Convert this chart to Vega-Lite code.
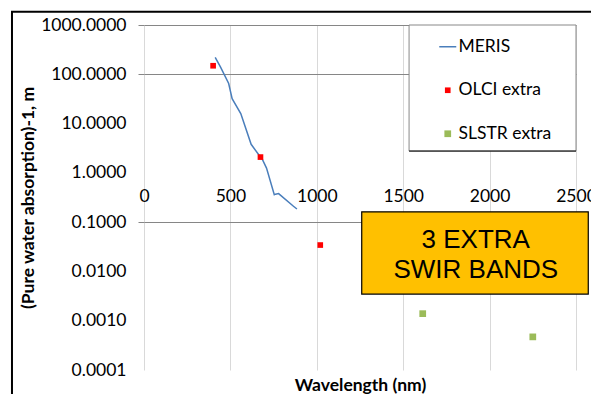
{
  "$schema": "https://vega.github.io/schema/vega-lite/v6.json",
  "width": 432,
  "height": 345,
  "autosize": {"type": "none"},
  "padding": {"left": 144, "top": 25, "right": 15, "bottom": 24},
  "background": "white",
  "config": {
    "font": "Lato",
    "view": {"stroke": null},
    "axis": {"labelFont": "Lato", "titleFont": "Lato", "labelColor": "#000000", "titleColor": "#000000", "labelFontSize": 17.5, "titleFontSize": 17.5}
  },
  "datasets": {
    "meris": [
      {"series": "MERIS", "wavelength": 412, "value": 220},
      {"series": "MERIS", "wavelength": 443, "value": 140},
      {"series": "MERIS", "wavelength": 490, "value": 65},
      {"series": "MERIS", "wavelength": 510, "value": 32},
      {"series": "MERIS", "wavelength": 560, "value": 16},
      {"series": "MERIS", "wavelength": 620, "value": 3.8},
      {"series": "MERIS", "wavelength": 665, "value": 2.3},
      {"series": "MERIS", "wavelength": 681, "value": 2.0},
      {"series": "MERIS", "wavelength": 709, "value": 1.25},
      {"series": "MERIS", "wavelength": 754, "value": 0.36},
      {"series": "MERIS", "wavelength": 761, "value": 0.37},
      {"series": "MERIS", "wavelength": 779, "value": 0.38},
      {"series": "MERIS", "wavelength": 865, "value": 0.21},
      {"series": "MERIS", "wavelength": 885, "value": 0.185}
    ],
    "bands": [
      {"series": "OLCI extra", "wavelength": 400, "value": 149},
      {"series": "OLCI extra", "wavelength": 674, "value": 2.09},
      {"series": "OLCI extra", "wavelength": 1020, "value": 0.0343},
      {"series": "SLSTR extra", "wavelength": 1613, "value": 0.00139},
      {"series": "SLSTR extra", "wavelength": 2250, "value": 0.00047}
    ],
    "one": [{}]
  },
  "resolve": {"axis": {"x": "independent", "y": "independent"}},
  "layer": [
    {
      "data": {"name": "one"},
      "mark": {"type": "rect", "filled": false, "stroke": "#000000", "strokeWidth": 2},
      "encoding": {
        "x": {"datum": -764, "type": "quantitative", "scale": {"domain": [0, 2500], "nice": false, "zero": false}, "axis": null},
        "x2": {"datum": 6000},
        "y": {"datum": 1850, "type": "quantitative", "scale": {"type": "log", "domain": [0.0001, 1000], "nice": false}, "axis": null},
        "y2": {"datum": 0.000001}
      }
    },
    {
      "data": {"name": "one"},
      "mark": {"type": "rect", "fill": "#ffffff", "stroke": "#888888", "strokeWidth": 1},
      "encoding": {
        "x": {"datum": 1534, "type": "quantitative", "scale": {"domain": [0, 2500], "nice": false, "zero": false}, "axis": null},
        "x2": {"datum": 2500},
        "y": {"datum": 1000, "type": "quantitative", "scale": {"type": "log", "domain": [0.0001, 1000], "nice": false}, "axis": null},
        "y2": {"datum": 2.77}
      }
    },
    {
      "data": {"name": "one"},
      "mark": {"type": "rule", "stroke": "#000000", "strokeWidth": 1},
      "encoding": {
        "x": {"datum": 1534, "type": "quantitative", "scale": {"domain": [0, 2500], "nice": false, "zero": false}, "axis": null},
        "x2": {"datum": 2500},
        "y": {"datum": 2.77, "type": "quantitative", "scale": {"type": "log", "domain": [0.0001, 1000], "nice": false}, "axis": null}
      }
    },
    {
      "data": {"name": "meris"},
      "mark": {"type": "line", "strokeWidth": 1.5},
      "encoding": {
        "x": {
          "field": "wavelength", "type": "quantitative",
          "scale": {"domain": [0, 2500], "nice": false, "zero": false},
          "axis": {
            "orient": "bottom", "values": [0, 500, 1000, 1500, 2000, 2500],
            "grid": true, "gridColor": "#d9d9d9", "gridWidth": 1,
            "ticks": false, "labels": false, "domain": false,
            "title": "Wavelength (nm)", "titleFontWeight": "bold", "titlePadding": 6
          }
        },
        "y": {
          "field": "value", "type": "quantitative",
          "scale": {"type": "log", "domain": [0.0001, 1000], "nice": false},
          "axis": {
            "values": [1000, 100, 10, 1, 0.1, 0.01, 0.001, 0.0001],
            "format": ".4f",
            "grid": true, "gridColor": "#868686",
            "gridOpacity": {"condition": {"test": "datum.value >= 100 || datum.value == 0.1", "value": 1}, "value": 0},
            "ticks": true, "tickSize": 6, "tickColor": "#868686",
            "tickOpacity": {"condition": {"test": "datum.value >= 100 || datum.value == 0.1", "value": 1}, "value": 0},
            "domain": false, "labelPadding": 12,
            "title": "(Pure water absorption)-1, m", "titleFontWeight": "bold", "titlePadding": 3
          }
        },
        "color": {
          "field": "series", "type": "nominal",
          "scale": {"domain": ["MERIS", "OLCI extra", "SLSTR extra"], "range": ["#4a7ebb", "#ff0000", "#9bbb59"]},
          "legend": {
            "title": null, "orient": "none", "legendX": 295, "legendY": 13,
            "labelFont": "Lato", "labelFontSize": 17.5, "labelColor": "#000000",
            "rowPadding": 24.5, "labelOffset": 2, "padding": 0,
            "encode": {"symbols": {"update": {"stroke": {"scale": "color", "field": "value"}, "strokeWidth": {"signal": "datum.value === 'MERIS' ? 1.5 : 0"}}}}
          }
        }
      }
    },
    {
      "data": {"name": "bands"},
      "mark": {"type": "point", "filled": true, "opacity": 1},
      "encoding": {
        "x": {
          "field": "wavelength", "type": "quantitative",
          "scale": {"domain": [0, 2500], "nice": false, "zero": false},
          "axis": {
            "orient": "bottom", "offset": -197, "values": [0, 500, 1000, 1500, 2000, 2500],
            "format": "d",
            "grid": false, "ticks": false, "domain": false, "labelFlush": false,
            "labelPadding": 14, "title": null
          }
        },
        "y": {"field": "value", "type": "quantitative", "scale": {"type": "log", "domain": [0.0001, 1000], "nice": false}, "axis": null},
        "color": {
          "field": "series", "type": "nominal",
          "scale": {"domain": ["MERIS", "OLCI extra", "SLSTR extra"], "range": ["#4a7ebb", "#ff0000", "#9bbb59"]},
          "legend": {
            "title": null, "orient": "none", "legendX": 295, "legendY": 13,
            "labelFont": "Lato", "labelFontSize": 17.5, "labelColor": "#000000",
            "rowPadding": 24.5, "labelOffset": 2, "padding": 0,
            "encode": {"symbols": {"update": {"stroke": {"scale": "color", "field": "value"}, "strokeWidth": {"signal": "datum.value === 'MERIS' ? 1.5 : 0"}}}}
          }
        },
        "shape": {
          "field": "series", "type": "nominal",
          "scale": {"domain": ["MERIS", "OLCI extra", "SLSTR extra"], "range": ["stroke", "square", "square"]},
          "legend": {"title": null}
        },
        "size": {
          "field": "series", "type": "nominal",
          "scale": {"type": "ordinal", "domain": ["MERIS", "OLCI extra", "SLSTR extra"], "range": [289, 32, 45]},
          "legend": {"title": null}
        }
      }
    },
    {
      "data": {"name": "one"},
      "mark": {"type": "rect", "fill": "#ffc000", "stroke": "#000000", "strokeWidth": 1.2},
      "encoding": {
        "x": {"datum": 1260, "type": "quantitative", "scale": {"domain": [0, 2500], "nice": false, "zero": false}, "axis": null},
        "x2": {"datum": 2571},
        "y": {"datum": 0.162, "type": "quantitative", "scale": {"type": "log", "domain": [0.0001, 1000], "nice": false}, "axis": null},
        "y2": {"datum": 0.00347}
      }
    },
    {
      "data": {"name": "one"},
      "mark": {"type": "text", "text": ["3 EXTRA", "SWIR BANDS"], "font": "Liberation Sans", "fontSize": 26, "lineHeight": 30, "align": "center", "baseline": "middle", "color": "#000000"},
      "encoding": {
        "x": {"datum": 1920, "type": "quantitative", "scale": {"domain": [0, 2500], "nice": false, "zero": false}, "axis": null},
        "y": {"datum": 0.0433, "type": "quantitative", "scale": {"type": "log", "domain": [0.0001, 1000], "nice": false}, "axis": null}
      }
    }
  ]
}
